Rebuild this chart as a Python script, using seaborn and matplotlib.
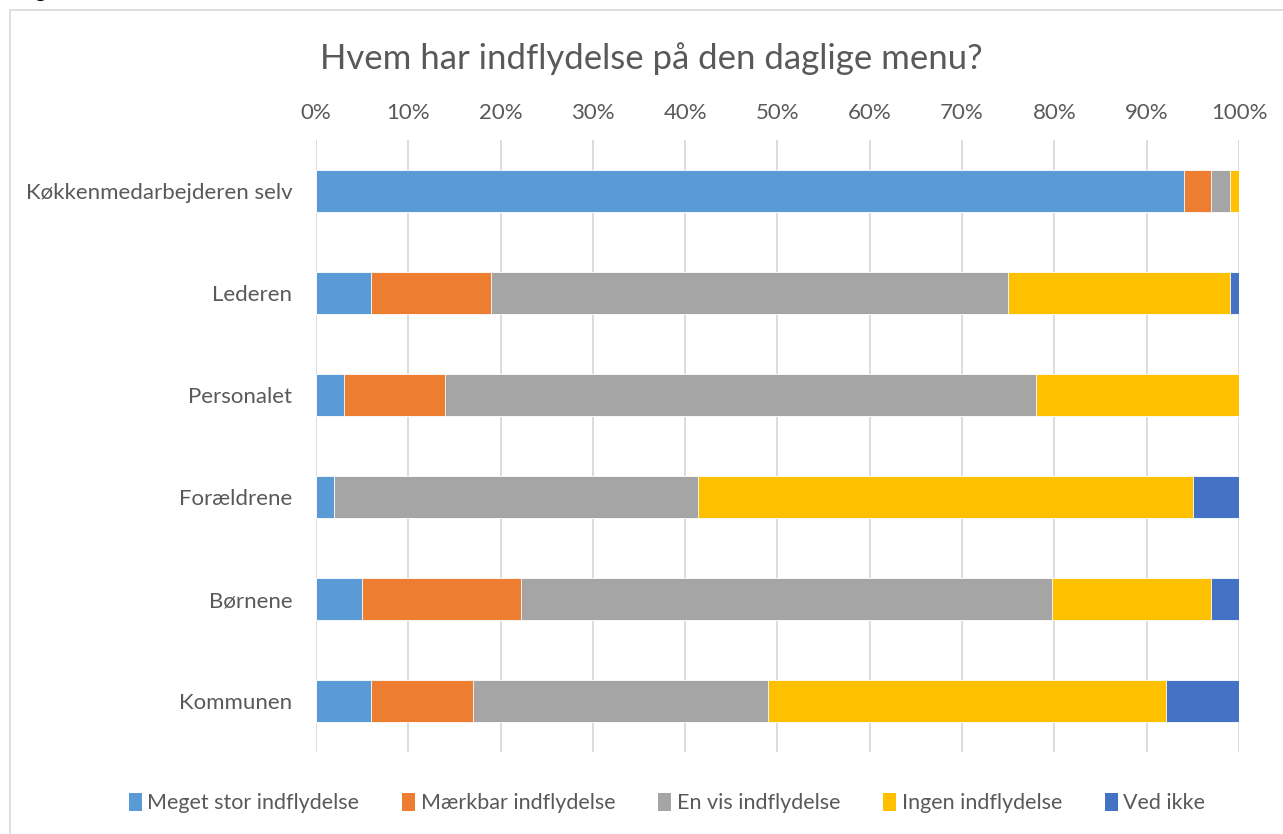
import numpy as np
import pandas as pd
import seaborn as sns
import matplotlib.pyplot as plt
from matplotlib.patches import Rectangle, Patch
from matplotlib.ticker import FuncFormatter

# ==== Data (procent) ====
categories = ["Køkkenmedarbejderen selv", "Lederen", "Personalet",
              "Forældrene", "Børnene", "Kommunen"]
series_names = ["Meget stor indflydelse", "Mærkbar indflydelse",
                "En vis indflydelse", "Ingen indflydelse", "Ved ikke"]
meget_stor = [94, 6, 3, 2, 5, 6]
maerkbar = [3, 13, 11, 0, 17.2, 11]
en_vis = [2, 56, 64, 39.4, 57.5, 32]
ingen = [1, 24, 22, 53.6, 17.3, 43.1]
ved_ikke = [0, 1, 0, 5, 3, 7.9]
colors = ["#5B9BD5", "#ED7D31", "#A5A5A5", "#FFC000", "#4472C4"]

sns.set_style("white")
plt.rcParams['font.family'] = ['Lato', 'DejaVu Sans']
text_col = "#595959"

df = pd.DataFrame({"kategori": categories}).assign(
    **dict(zip(series_names, [meget_stor, maerkbar, en_vis, ingen, ved_ikke])))
cum = df[series_names].cumsum(axis=1)

fig = plt.figure(figsize=(12.83, 8.34), dpi=100)
ax = fig.add_axes([0.2463, 0.0983, 0.7194, 0.7338])

# chart-ramme
fig.patches.append(Rectangle((10 / 1283, -0.05), 1.2, 1 - 10 / 834 + 0.05,
                             transform=fig.transFigure, fill=False,
                             edgecolor="#d9d9d9", linewidth=1.2))

# stablede bjælker: tegn den største kumulative sum først
for name, col in reversed(list(zip(series_names, colors))):
    sns.barplot(x=cum[name], y=df["kategori"], orient="h", color=col,
                saturation=1, width=0.41, edgecolor="white", linewidth=0.6,
                ax=ax, zorder=3)

ax.set_xlim(0, 100)
ax.set_ylim(5.5, -0.5)
ax.set_xticks(np.arange(0, 101, 10))
ax.xaxis.set_major_formatter(FuncFormatter(lambda v, p: f"{v:.0f}%"))
ax.xaxis.tick_top()
ax.tick_params(axis="both", length=0, labelsize=16, colors=text_col)
ax.tick_params(axis="x", pad=12)
ax.tick_params(axis="y", pad=17)
ax.grid(axis="x", color="#d9d9d9", linewidth=1.3, zorder=0)
ax.set_axisbelow(True)
ax.set_xlabel("")
ax.set_ylabel("")
for s in ax.spines.values():
    s.set_visible(False)

fig.text(0.508, 0.930, "Hvem har indflydelse på den daglige menu?",
         ha="center", va="center", fontsize=25, color=text_col)

# afskåret tekst øverst
fig.text(0.027, 1.003, "g", ha="left", va="baseline", fontsize=16,
         fontweight="bold", color="black")

handles = [Patch(facecolor=c, edgecolor="none") for c in colors]
fig.legend(handles, series_names, loc="center", bbox_to_anchor=(0.52, 0.037),
           ncol=5, frameon=False, fontsize=15.5, handlelength=0.6,
           handleheight=0.9, handletextpad=0.25, columnspacing=2.0,
           labelcolor=text_col)

fig.savefig("out.png", dpi=100)
